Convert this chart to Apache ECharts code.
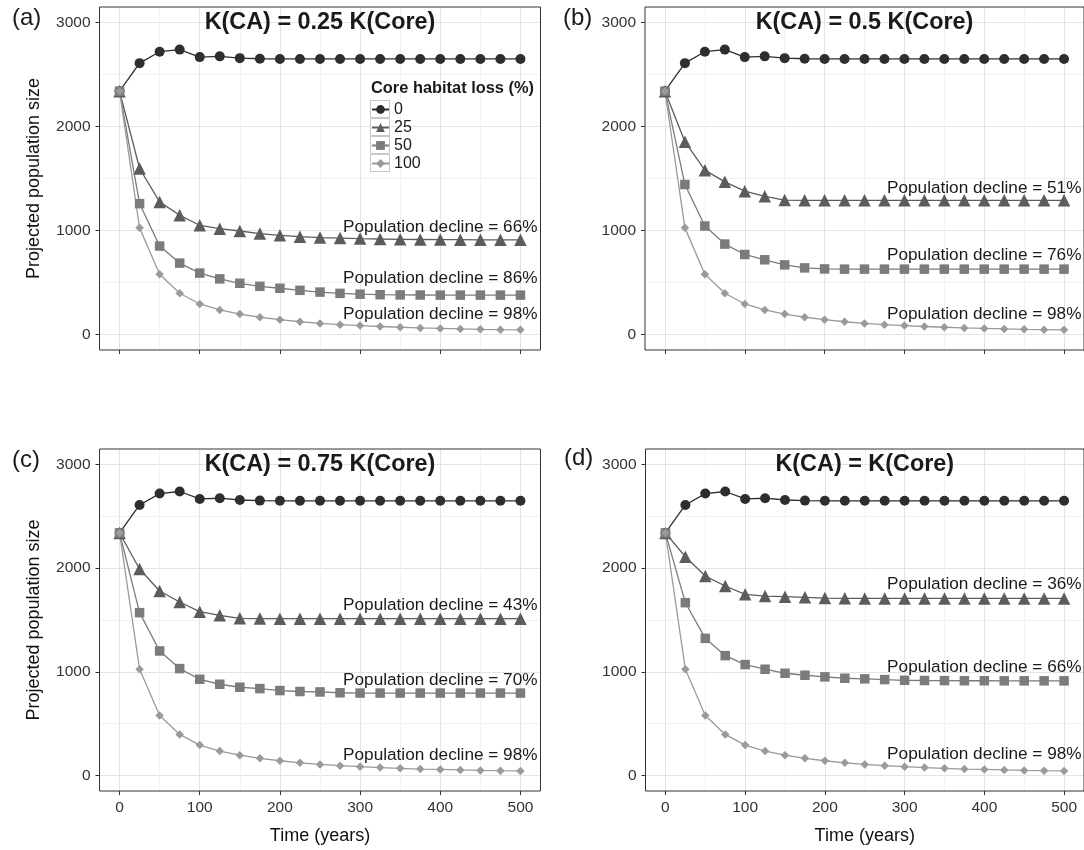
<!DOCTYPE html>
<html>
<head>
<meta charset="utf-8">
<script src="https://cdn.jsdelivr.net/npm/echarts@6/dist/echarts.min.js"></script>
<style>
  html, body { margin: 0; padding: 0; background: #fff; }
  #chart { width: 1084px; height: 850px; }
</style>
</head>
<body>
<div id="chart"></div>
<script>
// time steps (years)
const years = [0, 25, 50, 75, 100, 125, 150, 175, 200, 225, 250, 275, 300, 325, 350, 375, 400, 425, 450, 475, 500];

// 0% and 100% core habitat loss look the same in all four panels
const loss0 = [2340, 2610, 2720, 2740, 2668, 2675, 2658, 2652, 2650, 2650, 2650, 2650, 2650, 2650, 2650, 2650, 2650, 2650, 2650, 2650, 2650];
const loss100 = [2340, 1025, 578, 396, 293, 235, 196, 165, 142, 122, 106, 94, 85, 76, 69, 62, 58, 53, 49, 46, 44];

const loss25A = [2340, 1596, 1275, 1146, 1050, 1017, 995, 970, 953, 940, 932, 927, 922, 918, 915, 913, 912, 911, 910, 910, 910];
const loss50A = [2340, 1258, 850, 686, 590, 534, 492, 463, 444, 424, 407, 395, 387, 382, 380, 379, 378, 378, 378, 378, 378];
const loss25B = [2340, 1854, 1580, 1468, 1378, 1329, 1292, 1290, 1290, 1290, 1290, 1290, 1290, 1290, 1290, 1290, 1290, 1290, 1290, 1290, 1290];
const loss50B = [2340, 1442, 1043, 869, 769, 718, 669, 640, 630, 628, 628, 628, 628, 628, 628, 628, 628, 628, 628, 628, 628];
const loss25C = [2340, 1992, 1780, 1674, 1580, 1545, 1516, 1514, 1513, 1513, 1513, 1513, 1513, 1513, 1513, 1513, 1513, 1513, 1513, 1513, 1513];
const loss50C = [2340, 1571, 1201, 1031, 928, 880, 851, 838, 819, 810, 806, 798, 795, 795, 795, 795, 795, 795, 795, 795, 795];
const loss25D = [2340, 2110, 1924, 1828, 1748, 1731, 1725, 1719, 1712, 1709, 1708, 1708, 1708, 1708, 1708, 1708, 1708, 1708, 1708, 1708, 1708];
const loss50D = [2340, 1667, 1323, 1156, 1070, 1025, 986, 967, 951, 938, 932, 925, 918, 916, 915, 914, 914, 913, 913, 913, 913];

const panelTags = ["(a)", "(b)", "(c)", "(d)"];
const panelTitles = ["K(CA) = 0.25 K(Core)", "K(CA) = 0.5 K(Core)", "K(CA) = 0.75 K(Core)", "K(CA) = K(Core)"];

// "Population decline" annotations: text and the y value where each sits
const declineA = ["66%", "86%", "98%"];
const declineYA = [1033, 541, 190];
const declineB = ["51%", "76%", "98%"];
const declineYB = [1410, 766, 190];
const declineC = ["43%", "70%", "98%"];
const declineYC = [1645, 922, 199];
const declineD = ["36%", "66%", "98%"];
const declineYD = [1847, 1047, 206];

const xTicks = [0, 100, 200, 300, 400, 500];
const xMinor = [50, 150, 250, 350, 450];
const yTicks = [0, 1000, 2000, 3000];
const yMinor = [500, 1500, 2500];

const lossNames = ["0", "25", "50", "100"];

const FONT = "'Liberation Sans', Arial, Helvetica, sans-serif";

const styles = [
  { color: "#2e2e2e", symbol: "circle", size: 10 },
  { color: "#5c5c5c", symbol: "triangle", size: 12.5 },
  { color: "#7b7b7b", symbol: "rect", size: 9.5 },
  { color: "#9a9a9a", symbol: "diamond", size: 8.5 },
];

const panels = [
  { s25: loss25A, s50: loss50A, decl: declineA, declY: declineYA,
    grid: { left: 99.5, top: 7, width: 441, height: 343 }, tagPos: [12, 6], xLab: false, yName: true },
  { s25: loss25B, s50: loss50B, decl: declineB, declY: declineYB,
    grid: { left: 645, top: 7, width: 441, height: 343 }, tagPos: [563, 6], xLab: false, yName: false },
  { s25: loss25C, s50: loss50C, decl: declineC, declY: declineYC,
    grid: { left: 99.5, top: 449, width: 441, height: 342 }, tagPos: [12, 448], xLab: true, yName: true },
  { s25: loss25D, s50: loss50D, decl: declineD, declY: declineYD,
    grid: { left: 645.5, top: 449, width: 441, height: 342 }, tagPos: [564, 446], xLab: true, yName: false },
];

const chart = echarts.init(document.getElementById("chart"));

const grids = [];
const xAxes = [];
const yAxes = [];
const series = [];
const graphics = [];

panels.forEach((p, k) => {
  grids.push({
    ...p.grid,
    show: true,
    borderColor: "#333",
    borderWidth: 1,
    backgroundColor: "transparent",
    z: 3,
  });

  // major x axis
  xAxes.push({
    type: "value",
    gridIndex: k,
    min: -25,
    max: 525,
    position: "bottom",
    axisLine: { show: false, onZero: false },
    axisTick: { show: true, length: 4, lineStyle: { color: "#333" }, customValues: xTicks },
    axisLabel: { show: p.xLab, customValues: xTicks, formatter: (v) => String(v),
                 fontSize: 15.5, color: "#333", margin: 9, fontFamily: FONT },
    splitLine: { show: true, lineStyle: { color: "#e4e4e4", width: 1 } },
    name: p.xLab ? "Time (years)" : "",
    nameLocation: "middle",
    nameGap: 36,
    nameTextStyle: { fontSize: 18, color: "#111", fontFamily: FONT },
  });
  // minor x grid lines
  xAxes.push({
    type: "value",
    gridIndex: k,
    min: -25,
    max: 525,
    position: "top",
    axisLine: { show: false, onZero: false },
    axisTick: { show: false, customValues: xMinor },
    axisLabel: { show: false, customValues: xMinor },
    splitLine: { show: true, lineStyle: { color: "#f2f2f2", width: 1 } },
  });

  yAxes.push({
    type: "value",
    gridIndex: k,
    min: -150,
    max: 3150,
    position: "left",
    axisLine: { show: false, onZero: false },
    axisTick: { show: true, length: 4, lineStyle: { color: "#333" }, customValues: yTicks },
    axisLabel: { customValues: yTicks, formatter: (v) => String(v),
                 fontSize: 15.5, color: "#333", margin: 9, fontFamily: FONT },
    splitLine: { show: true, lineStyle: { color: "#e4e4e4", width: 1 } },
    name: p.yName ? "Projected population size" : "",
    nameLocation: "middle",
    nameGap: 56,
    nameTextStyle: { fontSize: 18, color: "#111", fontFamily: FONT },
  });
  yAxes.push({
    type: "value",
    gridIndex: k,
    min: -150,
    max: 3150,
    position: "right",
    axisLine: { show: false, onZero: false },
    axisTick: { show: false, customValues: yMinor },
    axisLabel: { show: false, customValues: yMinor },
    splitLine: { show: true, lineStyle: { color: "#f2f2f2", width: 1 } },
  });

  const values = [loss0, p.s25, p.s50, loss100];
  values.forEach((vals, j) => {
    const st = styles[j];
    const s = {
      name: lossNames[j],
      type: "line",
      xAxisIndex: 2 * k,
      yAxisIndex: 2 * k,
      data: years.map((t, i) => [t, vals[i]]),
      symbol: st.symbol,
      symbolSize: st.size,
      showAllSymbol: true,
      color: st.color,
      lineStyle: { color: st.color, width: 1.3 },
      itemStyle: { color: st.color },
      emphasis: { disabled: true },
      animation: false,
      z: 4,
    };
    if (j === 0) {
      s.markPoint = {
        symbol: "circle",
        symbolSize: 0,
        silent: true,
        label: { show: true, position: "inside", formatter: (d) => d.name,
                 fontSize: 23.4, fontWeight: "bold", color: "#1a1a1a", fontFamily: FONT },
        data: [{ name: panelTitles[k], coord: [250, 3000] }],
      };
    } else {
      s.markPoint = {
        symbol: "circle",
        symbolSize: 0,
        silent: true,
        label: { show: true, position: "inside", formatter: (d) => d.name,
                 fontSize: 17.2, color: "#1a1a1a", fontFamily: FONT },
        data: [{ name: "Population decline = " + p.decl[j - 1], coord: [400, p.declY[j - 1]] }],
      };
    }
    series.push(s);
  });

  graphics.push({
    type: "text",
    z: 10,
    left: p.tagPos[0],
    top: p.tagPos[1],
    style: { text: panelTags[k], fontSize: 24, fill: "#1a1a1a", fontFamily: FONT },
  });
});

// legend title and key boxes (panel a)
graphics.push({
  type: "text",
  z: 10,
  left: 371,
  top: 80,
  style: { text: "Core habitat loss (%)", fontSize: 16.4, fontWeight: "bold", fill: "#1a1a1a", fontFamily: FONT },
});
lossNames.forEach((n, i) => {
  graphics.push({
    type: "rect",
    z: 1,
    shape: { x: 370.5, y: 100.5 + 18 * i, width: 19, height: 17 },
    style: { fill: "#fff", stroke: "#c8c8c8", lineWidth: 1 },
  });
});

const option = {
  animation: false,
  backgroundColor: "#fff",
  textStyle: { fontFamily: FONT },
  grid: grids,
  xAxis: xAxes,
  yAxis: yAxes,
  legend: {
    data: lossNames,
    orient: "vertical",
    left: 371,
    top: 101,
    padding: 0,
    itemWidth: 17,
    itemHeight: 11,
    itemGap: 1,
    selectedMode: false,
    textStyle: { fontSize: 16, color: "#1a1a1a", lineHeight: 17, fontFamily: FONT },
  },
  graphic: graphics,
  series: series,
};
chart.setOption(option);
</script>
</body>
</html>
